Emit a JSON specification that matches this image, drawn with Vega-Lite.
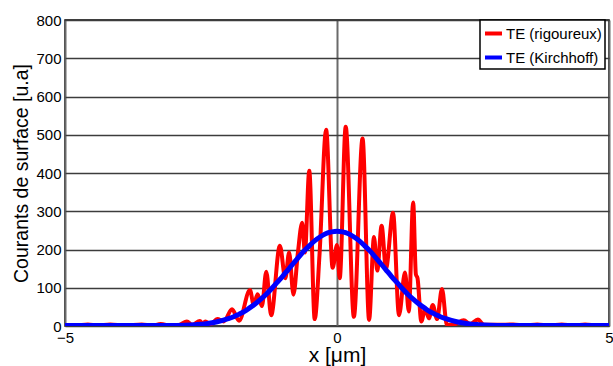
{
  "$schema": "https://vega.github.io/schema/vega-lite/v6.json",
  "width": 544,
  "height": 306,
  "autosize": {"type": "none"},
  "padding": {"left": 65, "top": 20, "right": 4, "bottom": 40},
  "background": "white",
  "config": {
    "font": "Liberation Sans",
    "view": {"stroke": "#000000", "strokeWidth": 1.5},
    "legend": {"strokeColor": "#000000", "strokeWidth": 1.5},
    "axis": {
      "domain": false,
      "ticks": false,
      "grid": true,
      "gridColor": "#3c3c3c",
      "gridWidth": 1.5,
      "labelColor": "#000000",
      "labelFontSize": 15,
      "titleColor": "#000000",
      "titleFontSize": 21,
      "titleFontWeight": "normal"
    }
  },
  "datasets": {
    "curves": [
      {"x": -5.0, "y": 2, "s": "TE (rigoureux)"},
      {"x": -4.8, "y": 1, "s": "TE (rigoureux)"},
      {"x": -4.58, "y": 4, "s": "TE (rigoureux)"},
      {"x": -4.4, "y": 1, "s": "TE (rigoureux)"},
      {"x": -4.17, "y": 4, "s": "TE (rigoureux)"},
      {"x": -3.9, "y": 1, "s": "TE (rigoureux)"},
      {"x": -3.59, "y": 4, "s": "TE (rigoureux)"},
      {"x": -3.4, "y": 1, "s": "TE (rigoureux)"},
      {"x": -3.24, "y": 5, "s": "TE (rigoureux)"},
      {"x": -3.05, "y": 1, "s": "TE (rigoureux)"},
      {"x": -2.9, "y": 3, "s": "TE (rigoureux)"},
      {"x": -2.76, "y": 12, "s": "TE (rigoureux)"},
      {"x": -2.66, "y": 3, "s": "TE (rigoureux)"},
      {"x": -2.52, "y": 13, "s": "TE (rigoureux)"},
      {"x": -2.47, "y": 6, "s": "TE (rigoureux)"},
      {"x": -2.42, "y": 12, "s": "TE (rigoureux)"},
      {"x": -2.32, "y": 5, "s": "TE (rigoureux)"},
      {"x": -2.2, "y": 18, "s": "TE (rigoureux)"},
      {"x": -2.08, "y": 12, "s": "TE (rigoureux)"},
      {"x": -1.93, "y": 44, "s": "TE (rigoureux)"},
      {"x": -1.8, "y": 14, "s": "TE (rigoureux)"},
      {"x": -1.6, "y": 94, "s": "TE (rigoureux)"},
      {"x": -1.53, "y": 55, "s": "TE (rigoureux)"},
      {"x": -1.46, "y": 83, "s": "TE (rigoureux)"},
      {"x": -1.38, "y": 52, "s": "TE (rigoureux)"},
      {"x": -1.3, "y": 142, "s": "TE (rigoureux)"},
      {"x": -1.21, "y": 28, "s": "TE (rigoureux)"},
      {"x": -1.05, "y": 210, "s": "TE (rigoureux)"},
      {"x": -0.95, "y": 125, "s": "TE (rigoureux)"},
      {"x": -0.88, "y": 192, "s": "TE (rigoureux)"},
      {"x": -0.8, "y": 82, "s": "TE (rigoureux)"},
      {"x": -0.72, "y": 190, "s": "TE (rigoureux)"},
      {"x": -0.64, "y": 270, "s": "TE (rigoureux)"},
      {"x": -0.59, "y": 192, "s": "TE (rigoureux)"},
      {"x": -0.51, "y": 406, "s": "TE (rigoureux)"},
      {"x": -0.41, "y": 18, "s": "TE (rigoureux)"},
      {"x": -0.32, "y": 190, "s": "TE (rigoureux)"},
      {"x": -0.2, "y": 513, "s": "TE (rigoureux)"},
      {"x": -0.08, "y": 152, "s": "TE (rigoureux)"},
      {"x": 0.0, "y": 212, "s": "TE (rigoureux)"},
      {"x": 0.05, "y": 125, "s": "TE (rigoureux)"},
      {"x": 0.16, "y": 521, "s": "TE (rigoureux)"},
      {"x": 0.31, "y": 24, "s": "TE (rigoureux)"},
      {"x": 0.47, "y": 490, "s": "TE (rigoureux)"},
      {"x": 0.59, "y": 16, "s": "TE (rigoureux)"},
      {"x": 0.68, "y": 233, "s": "TE (rigoureux)"},
      {"x": 0.74, "y": 145, "s": "TE (rigoureux)"},
      {"x": 0.82, "y": 262, "s": "TE (rigoureux)"},
      {"x": 0.9, "y": 150, "s": "TE (rigoureux)"},
      {"x": 1.03, "y": 296, "s": "TE (rigoureux)"},
      {"x": 1.14, "y": 28, "s": "TE (rigoureux)"},
      {"x": 1.25, "y": 140, "s": "TE (rigoureux)"},
      {"x": 1.32, "y": 38, "s": "TE (rigoureux)"},
      {"x": 1.4, "y": 323, "s": "TE (rigoureux)"},
      {"x": 1.45, "y": 135, "s": "TE (rigoureux)"},
      {"x": 1.48, "y": 125, "s": "TE (rigoureux)"},
      {"x": 1.55, "y": 12, "s": "TE (rigoureux)"},
      {"x": 1.62, "y": 45, "s": "TE (rigoureux)"},
      {"x": 1.69, "y": 20, "s": "TE (rigoureux)"},
      {"x": 1.76, "y": 55, "s": "TE (rigoureux)"},
      {"x": 1.84, "y": 18, "s": "TE (rigoureux)"},
      {"x": 1.93, "y": 97, "s": "TE (rigoureux)"},
      {"x": 2.02, "y": 3, "s": "TE (rigoureux)"},
      {"x": 2.15, "y": 4, "s": "TE (rigoureux)"},
      {"x": 2.33, "y": 15, "s": "TE (rigoureux)"},
      {"x": 2.45, "y": 5, "s": "TE (rigoureux)"},
      {"x": 2.59, "y": 17, "s": "TE (rigoureux)"},
      {"x": 2.7, "y": 3, "s": "TE (rigoureux)"},
      {"x": 2.95, "y": 3, "s": "TE (rigoureux)"},
      {"x": 3.24, "y": 4, "s": "TE (rigoureux)"},
      {"x": 3.45, "y": 1, "s": "TE (rigoureux)"},
      {"x": 3.68, "y": 4, "s": "TE (rigoureux)"},
      {"x": 3.9, "y": 1, "s": "TE (rigoureux)"},
      {"x": 4.13, "y": 4, "s": "TE (rigoureux)"},
      {"x": 4.35, "y": 1, "s": "TE (rigoureux)"},
      {"x": 4.56, "y": 4, "s": "TE (rigoureux)"},
      {"x": 4.8, "y": 1, "s": "TE (rigoureux)"},
      {"x": 5.0, "y": 2, "s": "TE (rigoureux)"},

      {"x": -5.0, "y": 1, "s": "TE (Kirchhoff)"},
      {"x": -4.0, "y": 1, "s": "TE (Kirchhoff)"},
      {"x": -3.5, "y": 1, "s": "TE (Kirchhoff)"},
      {"x": -3.0, "y": 1.5, "s": "TE (Kirchhoff)"},
      {"x": -2.8, "y": 2, "s": "TE (Kirchhoff)"},
      {"x": -2.6, "y": 3.5, "s": "TE (Kirchhoff)"},
      {"x": -2.4, "y": 6, "s": "TE (Kirchhoff)"},
      {"x": -2.2, "y": 11, "s": "TE (Kirchhoff)"},
      {"x": -2.0, "y": 19, "s": "TE (Kirchhoff)"},
      {"x": -1.9, "y": 24, "s": "TE (Kirchhoff)"},
      {"x": -1.8, "y": 31, "s": "TE (Kirchhoff)"},
      {"x": -1.7, "y": 38, "s": "TE (Kirchhoff)"},
      {"x": -1.6, "y": 48, "s": "TE (Kirchhoff)"},
      {"x": -1.5, "y": 58, "s": "TE (Kirchhoff)"},
      {"x": -1.4, "y": 70, "s": "TE (Kirchhoff)"},
      {"x": -1.3, "y": 83, "s": "TE (Kirchhoff)"},
      {"x": -1.2, "y": 98, "s": "TE (Kirchhoff)"},
      {"x": -1.1, "y": 114, "s": "TE (Kirchhoff)"},
      {"x": -1.0, "y": 130, "s": "TE (Kirchhoff)"},
      {"x": -0.9, "y": 147, "s": "TE (Kirchhoff)"},
      {"x": -0.8, "y": 164, "s": "TE (Kirchhoff)"},
      {"x": -0.7, "y": 181, "s": "TE (Kirchhoff)"},
      {"x": -0.6, "y": 197, "s": "TE (Kirchhoff)"},
      {"x": -0.5, "y": 211, "s": "TE (Kirchhoff)"},
      {"x": -0.4, "y": 224, "s": "TE (Kirchhoff)"},
      {"x": -0.3, "y": 234, "s": "TE (Kirchhoff)"},
      {"x": -0.2, "y": 242, "s": "TE (Kirchhoff)"},
      {"x": -0.1, "y": 246, "s": "TE (Kirchhoff)"},
      {"x": 0.0, "y": 248, "s": "TE (Kirchhoff)"},
      {"x": 0.1, "y": 246, "s": "TE (Kirchhoff)"},
      {"x": 0.2, "y": 242, "s": "TE (Kirchhoff)"},
      {"x": 0.3, "y": 234, "s": "TE (Kirchhoff)"},
      {"x": 0.4, "y": 224, "s": "TE (Kirchhoff)"},
      {"x": 0.5, "y": 211, "s": "TE (Kirchhoff)"},
      {"x": 0.6, "y": 197, "s": "TE (Kirchhoff)"},
      {"x": 0.7, "y": 181, "s": "TE (Kirchhoff)"},
      {"x": 0.8, "y": 164, "s": "TE (Kirchhoff)"},
      {"x": 0.9, "y": 147, "s": "TE (Kirchhoff)"},
      {"x": 1.0, "y": 130, "s": "TE (Kirchhoff)"},
      {"x": 1.1, "y": 114, "s": "TE (Kirchhoff)"},
      {"x": 1.2, "y": 98, "s": "TE (Kirchhoff)"},
      {"x": 1.3, "y": 83, "s": "TE (Kirchhoff)"},
      {"x": 1.4, "y": 70, "s": "TE (Kirchhoff)"},
      {"x": 1.5, "y": 58, "s": "TE (Kirchhoff)"},
      {"x": 1.6, "y": 48, "s": "TE (Kirchhoff)"},
      {"x": 1.7, "y": 38, "s": "TE (Kirchhoff)"},
      {"x": 1.8, "y": 31, "s": "TE (Kirchhoff)"},
      {"x": 1.9, "y": 24, "s": "TE (Kirchhoff)"},
      {"x": 2.0, "y": 19, "s": "TE (Kirchhoff)"},
      {"x": 2.2, "y": 11, "s": "TE (Kirchhoff)"},
      {"x": 2.4, "y": 6, "s": "TE (Kirchhoff)"},
      {"x": 2.6, "y": 3.5, "s": "TE (Kirchhoff)"},
      {"x": 2.8, "y": 2, "s": "TE (Kirchhoff)"},
      {"x": 3.0, "y": 1.5, "s": "TE (Kirchhoff)"},
      {"x": 3.5, "y": 1, "s": "TE (Kirchhoff)"},
      {"x": 4.0, "y": 1, "s": "TE (Kirchhoff)"},
      {"x": 5.0, "y": 1, "s": "TE (Kirchhoff)"}
    ]
  },
  "data": {"name": "curves"},
  "encoding": {
    "x": {
      "field": "x",
      "type": "quantitative",
      "scale": {"domain": [-5, 5], "nice": false, "zero": false},
      "axis": {
        "values": [-5, 0, 5],
        "title": "x [μm]",
        "labelFlush": false,
        "labelPadding": 4,
        "titleBaseline": "alphabetic",
        "titleY": 35,
        "gridColor": "#6a6a6a",
        "gridWidth": 2
      }
    },
    "y": {
      "field": "y",
      "type": "quantitative",
      "scale": {"domain": [0, 800], "nice": false},
      "axis": {
        "values": [0, 100, 200, 300, 400, 500, 600, 700, 800],
        "title": "Courants de surface [u.a]",
        "titleFontSize": 19.5,
        "labelPadding": 4,
        "titlePadding": 4
      }
    },
    "color": {
      "field": "s",
      "type": "nominal",
      "scale": {"domain": ["TE (rigoureux)", "TE (Kirchhoff)"], "range": ["#ff0000", "#0000ff"]},
      "legend": {
        "title": null,
        "orient": "none",
        "legendX": 415,
        "legendY": 0,
        "fillColor": "#ffffff",
        "padding": 3,
        "symbolType": "stroke",
        "symbolSize": 289,
        "symbolStrokeWidth": 4,
        "labelFontSize": 15,
        "labelColor": "#000000",
        "labelOffset": 2,
        "rowPadding": 5
      }
    }
  },
  "layer": [
    {
      "transform": [{"filter": "datum.s === 'TE (rigoureux)'"}],
      "mark": {"type": "line", "interpolate": "monotone", "strokeWidth": 4, "clip": true}
    },
    {
      "transform": [{"filter": "datum.s === 'TE (Kirchhoff)'"}],
      "mark": {"type": "line", "interpolate": "monotone", "strokeWidth": 5, "clip": true}
    }
  ]
}
